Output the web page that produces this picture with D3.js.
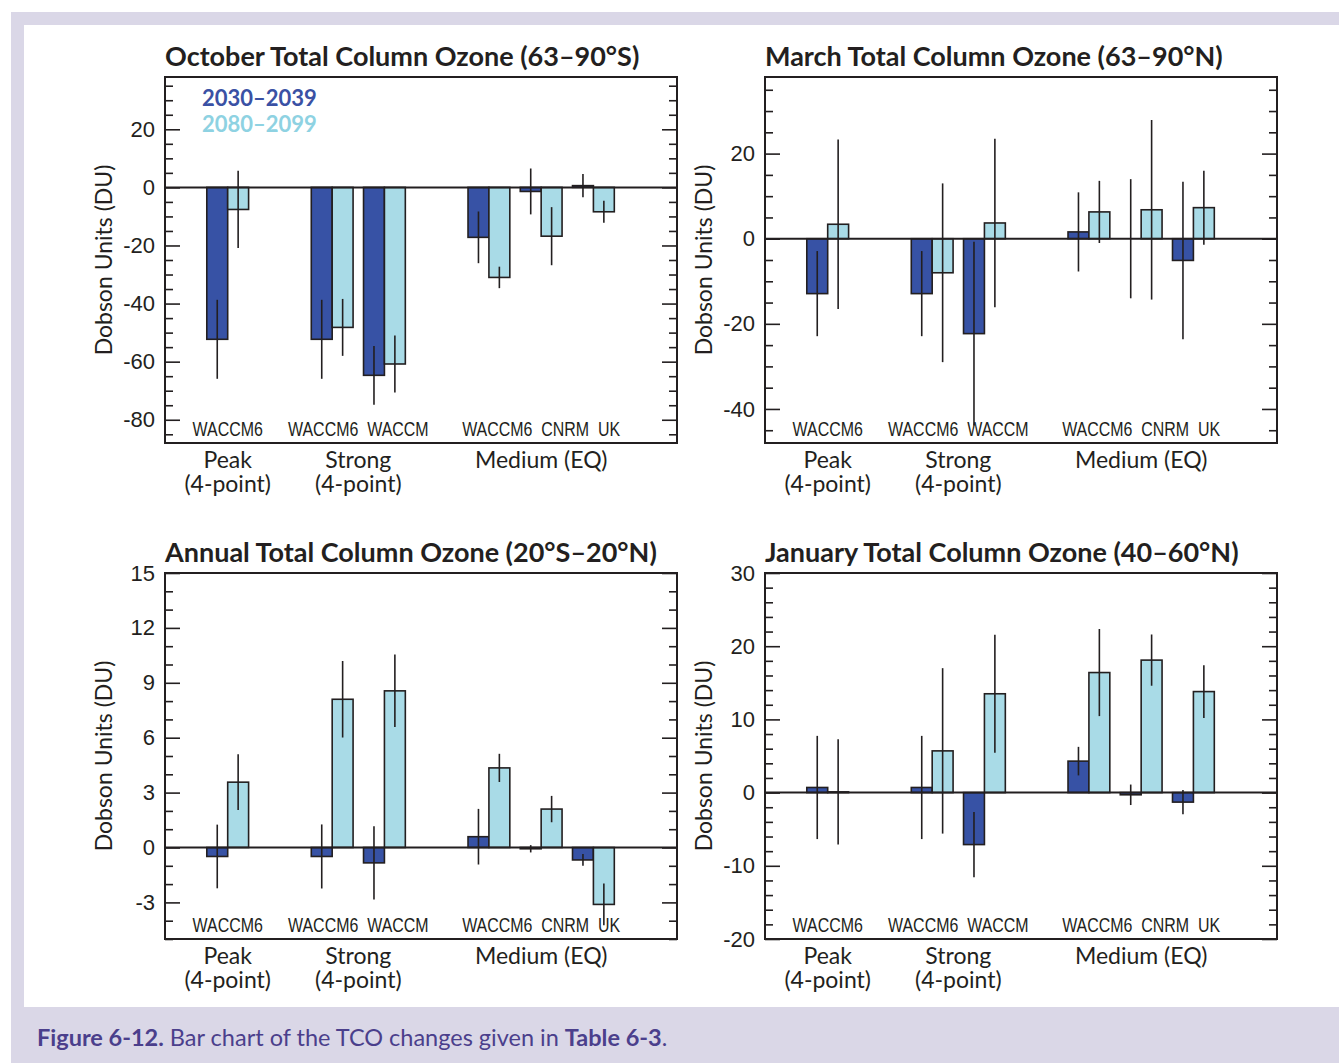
<!DOCTYPE html>
<html>
<head>
<meta charset="utf-8">
<script src="https://cdn.jsdelivr.net/npm/d3@7"></script>
<style>
  body { margin: 0; background: #fff; }
  text { font-family: Lato, "Open Sans", sans-serif; }
  .num { font-family: "Liberation Sans", Arial, sans-serif; }
  .narrow { font-family: "Liberation Sans", Arial, sans-serif; }
</style>
</head>
<body>
<svg id="chart" width="1339" height="1063"></svg>
<script>
// scenario groups and the models run for each
const groupNames = ["Peak", "Strong", "Medium (EQ)"];
const groupSubs = ["(4-point)", "(4-point)", ""];
const groupModels = [["WACCM6"], ["WACCM6", "WACCM"], ["WACCM6", "CNRM", "UK"]];
const periods = ["2030–2039", "2080–2099"];

const titles = [
  "October Total Column Ozone (63–90°S)",
  "March Total Column Ozone (63–90°N)",
  "Annual Total Column Ozone (20°S–20°N)",
  "January Total Column Ozone (40–60°N)"
];

// TCO changes (DU), one value per model run, and the error bar half-widths
const octNear = [-52.3, -52.3, -64.7, -17.2, -1.4, 0.6];
const octNearErr = [13.6, 13.6, 10.1, 8.9, 7.9, 4.0];
const octFar = [-7.6, -48.2, -60.8, -31.0, -16.8, -8.4];
const octFarErr = [13.3, 9.8, 9.8, 3.7, 10.0, 3.8];

const marNear = [-12.9, -12.9, -22.3, 1.6, 0.0, -5.1];
const marNearErr = [10.0, 10.0, 21.6, 9.3, 14.0, 18.5];
const marFar = [3.4, -8.0, 3.7, 6.3, 6.8, 7.3];
const marFarErr = [19.9, 21.0, 19.8, 7.3, 21.1, 8.7];

const annNear = [-0.49, -0.49, -0.84, 0.59, -0.07, -0.68];
const annNearErr = [1.74, 1.75, 2.0, 1.52, 0.2, 0.32];
const annFar = [3.57, 8.1, 8.56, 4.35, 2.1, -3.11];
const annFarErr = [1.52, 2.09, 1.98, 0.77, 0.72, 1.14];

const janNear = [0.7, 0.7, -7.1, 4.3, -0.3, -1.3];
const janNearErr = [7.05, 7.05, 4.45, 1.95, 1.4, 1.65];
const janFar = [0.1, 5.7, 13.5, 16.4, 18.1, 13.8];
const janFarErr = [7.2, 11.3, 8.05, 5.95, 3.5, 3.6];

// y axis ranges and tick spacing per panel
const yDomains = [[-88, 38], [-48, 38], [-5, 15], [-20, 30]];
const majorSteps = [20, 20, 3, 10];
const minorSteps = [5, 5, 1, 2];

const panelData = [
  [octNear, octNearErr, octFar, octFarErr],
  [marNear, marNearErr, marFar, marFarErr],
  [annNear, annNearErr, annFar, annFarErr],
  [janNear, janNearErr, janFar, janFarErr]
];

const colors = ["#3752a5", "#a9dbe7"];
const legendColors = ["#3a51a4", "#8ed2e2"];
const ink = "#231f20";

const svg = d3.select("#chart");

// page background: lavender band with white inner sheet
svg.append("rect").attr("x", 11).attr("y", 12).attr("width", 1339 - 11).attr("height", 1063 - 12).attr("fill", "#dad7e7");
svg.append("rect").attr("x", 24).attr("y", 25).attr("width", 1339 - 24).attr("height", 1007 - 25).attr("fill", "#fff");

const cap = svg.append("text").attr("x", 37).attr("y", 1046)
  .attr("fill", "#4b3f8c").style("font-size", "23.5px");
cap.append("tspan").attr("font-weight", 700).text("Figure 6-12.");
cap.append("tspan").text(" Bar chart of the TCO changes given in ");
cap.append("tspan").attr("font-weight", 700).text("Table 6-3");
cap.append("tspan").text(".");

// slot positions: consecutive models, one empty slot after each group
let s = 1;
const slots = [], slotGroup = [];
groupModels.forEach((ms, gi) => { ms.forEach(() => { slots.push(s++); slotGroup.push(gi); }); s++; });

const cols = [165, 765], rows = [77, 573];
const w = 512, h = 366;

panelData.forEach((pd, pi) => {
  const g = svg.append("g")
    .attr("transform", `translate(${cols[pi % 2]},${rows[Math.floor(pi / 2)]})`);

  const x = d3.scaleLinear().domain([-0.2, 9.6]).range([0, w]);
  const y = d3.scaleLinear().domain(yDomains[pi]).range([h, 0]);
  const bw = x(0.4) - x(0);

  const [lo, hi] = yDomains[pi];
  const majors = d3.range(Math.ceil(lo / majorSteps[pi]) * majorSteps[pi], hi + 1e-9, majorSteps[pi]);
  const minors = d3.range(Math.ceil(lo / minorSteps[pi]) * minorSteps[pi], hi + 1e-9, minorSteps[pi])
    .filter(v => !majors.includes(v));

  const fmt = d => String(d);
  const axes = [
    [d3.axisLeft(y).tickValues(majors).tickSizeInner(-15).tickPadding(10).tickFormat(fmt), 0],
    [d3.axisLeft(y).tickValues(minors).tickSizeInner(-8).tickFormat(""), 0],
    [d3.axisRight(y).tickValues(majors).tickSizeInner(-15).tickFormat(""), w],
    [d3.axisRight(y).tickValues(minors).tickSizeInner(-8).tickFormat(""), w]
  ];
  axes.forEach(([a, tx]) => {
    g.append("g").attr("transform", `translate(${tx},0)`)
      .call(a.tickSizeOuter(0))
      .call(sel => sel.select(".domain").remove());
  });
  g.selectAll(".tick line").attr("stroke", ink).attr("stroke-width", 1.6);
  g.selectAll(".tick text").attr("class", "num").style("font-size", "22px").attr("fill", ink);

  // bars
  [0, 1].forEach(k => {
    const vals = pd[k * 2];
    g.append("g").selectAll("rect").data(vals).join("rect")
      .attr("x", (d, i) => x(slots[i]) - bw + k * bw)
      .attr("y", d => y(Math.max(0, d)))
      .attr("width", bw)
      .attr("height", d => Math.abs(y(d) - y(0)))
      .attr("fill", colors[k]).attr("stroke", ink).attr("stroke-width", 1.6);
  });

  // zero line
  g.append("line").attr("x1", 0).attr("x2", w).attr("y1", y(0)).attr("y2", y(0))
    .attr("stroke", ink).attr("stroke-width", 2);

  // error bars
  [0, 1].forEach(k => {
    const vals = pd[k * 2], errs = pd[k * 2 + 1];
    g.append("g").selectAll("line").data(vals).join("line")
      .attr("x1", (d, i) => x(slots[i]) - bw / 2 + k * bw)
      .attr("x2", (d, i) => x(slots[i]) - bw / 2 + k * bw)
      .attr("y1", (d, i) => y(d + errs[i]))
      .attr("y2", (d, i) => y(d - errs[i]))
      .attr("stroke", ink).attr("stroke-width", 1.6);
  });

  // frame
  g.append("rect").attr("width", w).attr("height", h)
    .attr("fill", "none").attr("stroke", ink).attr("stroke-width", 2);

  // model names inside the bottom of the frame (condensed), then scenario names below
  groupModels.forEach((ms, gi) => {
    const idx = slotGroup.map((sg, i) => sg === gi ? i : -1).filter(i => i >= 0);
    const cx = x(d3.mean(idx, i => slots[i]));
    g.append("text").attr("class", "narrow")
      .attr("transform", `translate(${cx},${h - 7}) scale(0.76,1)`)
      .attr("text-anchor", "middle").style("font-size", "21px").attr("fill", ink)
      .style("white-space", "pre").text(ms.join("  "));
    const lbl = g.append("text").attr("y", h + 25).attr("text-anchor", "middle")
      .style("font-size", "23px").attr("fill", ink);
    lbl.append("tspan").attr("x", cx).text(groupNames[gi]);
    if (groupSubs[gi]) lbl.append("tspan").attr("x", cx).attr("dy", 24).text(groupSubs[gi]);
  });

  g.append("text").attr("x", 0).attr("y", -11)
    .style("font-size", "27px").attr("font-weight", 700).attr("fill", ink)
    .text(titles[pi]);

  g.append("text").attr("transform", `translate(-53,${h / 2}) rotate(-90)`)
    .attr("text-anchor", "middle").style("font-size", "23px").attr("fill", ink)
    .text("Dobson Units (DU)");

  if (pi === 0) {
    periods.forEach((p, k) => {
      g.append("text").attr("x", 37).attr("y", 29 + k * 26)
        .style("font-size", "22px").attr("font-weight", 700).attr("fill", legendColors[k])
        .text(p);
    });
  }
});
</script>
</body>
</html>
